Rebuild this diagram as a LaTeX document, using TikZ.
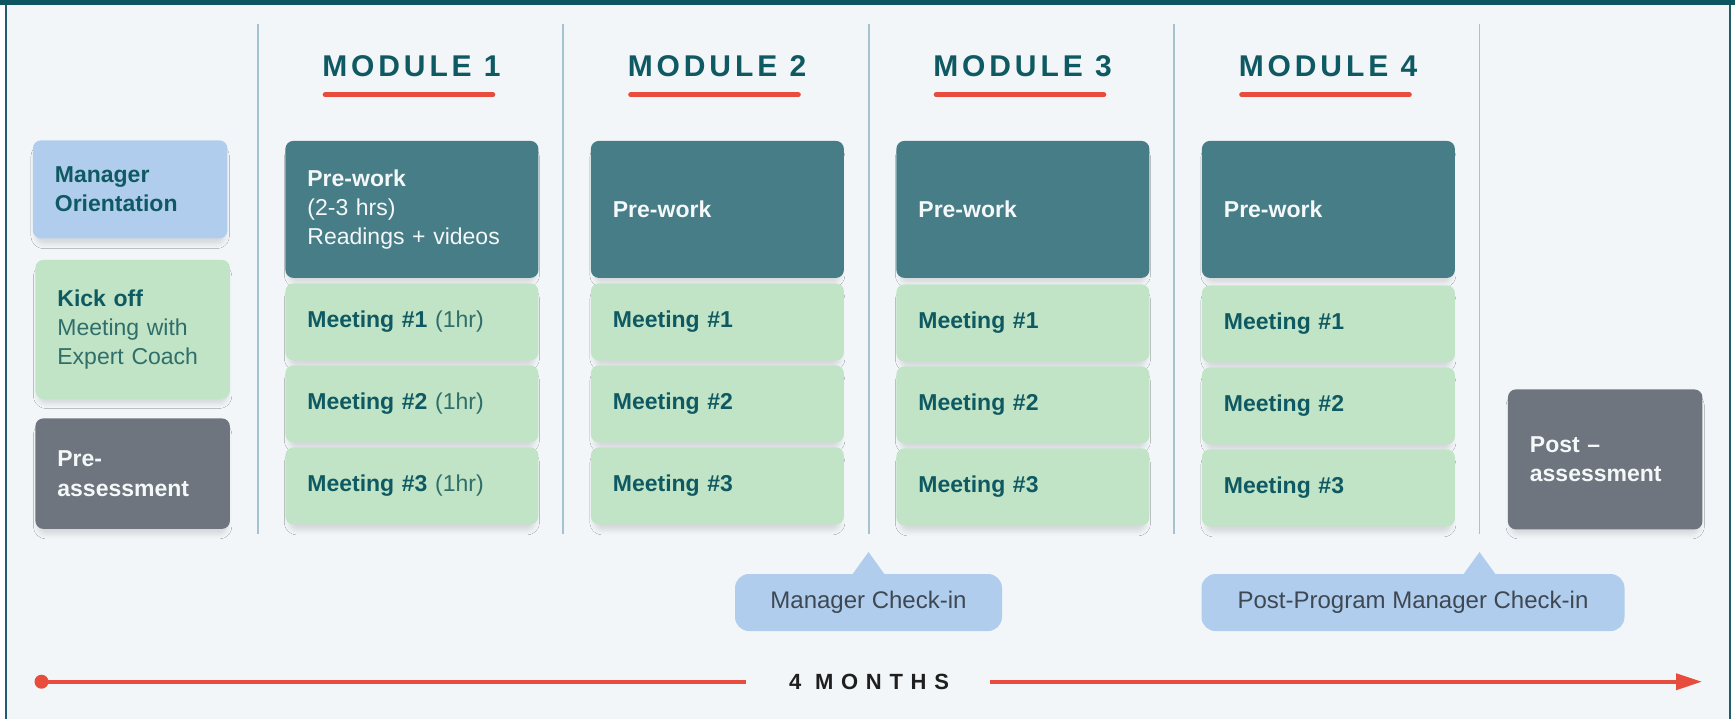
\documentclass[tikz,border=0pt]{standalone}
\usepackage{fontspec}
\setmainfont{Liberation Sans}
\newfontfamily\hdrfont[LetterSpace=13]{Liberation Sans}
\newfontfamily\monthfont[LetterSpace=35]{Liberation Sans}
\usetikzlibrary{arrows.meta,shadows.blur}
\definecolor{bgc}{HTML}{F2F6F8}
\definecolor{topc}{HTML}{0D5661}
\definecolor{framec}{HTML}{1E5F69}
\definecolor{pwc}{HTML}{477D87}
\definecolor{mgc}{HTML}{C1E4C7}
\definecolor{blc}{HTML}{B1CDEE}
\definecolor{gyc}{HTML}{6E757E}
\definecolor{tealtxt}{HTML}{0F5A62}
\definecolor{tealsub}{HTML}{2F6E69}
\definecolor{redc}{HTML}{E84C3D}
\definecolor{divc}{HTML}{A6C2CE}
\definecolor{cotxt}{HTML}{3D4852}
\definecolor{whtxt}{HTML}{F4F8F9}
\begin{document}
\begin{tikzpicture}[x=0.5pt,y=-0.5pt,
  card/.style={rectangle, rounded corners=4pt, anchor=north west, inner xsep=11pt, inner ysep=0pt,
    align=left, font=\fontsize{11.5}{14.6}\selectfont,
    blur shadow={shadow xshift=0pt, shadow yshift=-3.5pt, shadow scale=0.97, shadow blur radius=2.5pt, shadow opacity=12}},
  prework/.style={card, fill=pwc, text=whtxt, minimum width=126.5pt, text width=104.5pt, minimum height=68.5pt},
  meeting/.style={card, fill=mgc, text=tealtxt, minimum width=126.5pt, text width=104.5pt, minimum height=38.5pt},
  sidecard/.style={card, minimum width=97.25pt, text width=75.25pt},
  hdr/.style={font=\hdrfont\bfseries\fontsize{15}{18}\selectfont, text=tealtxt, inner sep=0pt},
  ul/.style={draw=redc, line width=2.3pt, line cap=round},
  divider/.style={draw=divc, line width=0.6pt},
  callout/.style={rectangle, rounded corners=7pt, fill=blc, text=cotxt, font=\fontsize{12}{14}\selectfont, inner sep=0pt},
  tline/.style={draw=redc, line width=1.8pt}
]
\useasboundingbox (0,0) rectangle (1735,719);
% frame
\fill[white] (0,0) rectangle (1735,719);
\fill[bgc] (6,0) rectangle (1730,719);
\draw[framec, line width=0.8pt] (6,0) -- (6,719);
\draw[framec, line width=0.8pt] (1730,0) -- (1730,719);
\fill[topc] (0,0) rectangle (1735,4.5);

% dividers
\foreach \x in {258,563,869,1174,1479.5}{
  \draw[divider] (\x,24) -- (\x,534);
}

% headers
\foreach \i in {1,...,4}{
  \pgfmathsetmacro{\C}{285+(\i-1)*305.5+126.5}
  \node[hdr] (hd\i) at (\C,66) {MODULE \i};
  \draw[ul] (\C-86.5,94.7) -- (\C+81.5,94.7);
}

% left column
\node[sidecard, fill=blc, text=tealtxt, minimum height=49pt] (mo) at (32.5,140)
  {\textbf{Manager}\\\textbf{Orientation}};
\node[sidecard, fill=mgc, text=tealtxt, minimum height=69.5pt] (ko) at (35,259.5)
  {\textbf{Kick off}\\\textcolor{tealsub}{Meeting with}\\\textcolor{tealsub}{Expert Coach}};
\node[sidecard, fill=gyc, text=whtxt, minimum height=55.25pt] (pa) at (35,418)
  {\textbf{Pre-}\\\textbf{assessment}};

% module 1
\node[prework] (pw1) at (285,140.5) {\textbf{Pre-work}\\(2-3 hrs)\\Readings + videos};
\node[meeting] (m1-1) at (285,283) {\textbf{Meeting \#1} \textcolor{tealsub}{(1hr)}};
\node[meeting] (m1-2) at (285,365) {\textbf{Meeting \#2} \textcolor{tealsub}{(1hr)}};
\node[meeting] (m1-3) at (285,447) {\textbf{Meeting \#3} \textcolor{tealsub}{(1hr)}};

% modules 2-4
\foreach \i in {2,3,4}{
  \pgfmathsetmacro{\L}{285+(\i-1)*305.5}
  \pgfmathsetmacro{\D}{(\i-2)*1}
  \node[prework] (pw\i) at (\L,140.5) {\textbf{Pre-work}};
  \node[meeting] (m\i-1) at (\L,283+\D) {\textbf{Meeting \#1}};
  \node[meeting] (m\i-2) at (\L,365+\D) {\textbf{Meeting \#2}};
  \node[meeting] (m\i-3) at (\L,447+\D) {\textbf{Meeting \#3}};
}

% post assessment
\node[sidecard, fill=gyc, text=whtxt, minimum height=70pt] (posta) at (1507.5,389)
  {\textbf{Post --}\\\textbf{assessment}};

% callouts
\node[callout, minimum width=133.5pt, minimum height=28.5pt] (c1) at (868.5,602.5) {Manager Check-in};
\fill[blc] ([xshift=-8.5pt,yshift=-1pt]c1.north) -- (868.5,552) -- ([xshift=8.5pt,yshift=-1pt]c1.north) -- cycle;
\node[callout, minimum width=211.5pt, minimum height=28.5pt] (c2) at (1413,602.5) {Post-Program Manager Check-in};
\fill[blc] ([xshift=24.75pt,yshift=-1pt]c2.north) -- (1479.5,552) -- ([xshift=41.75pt,yshift=-1pt]c2.north) -- cycle;

% timeline
\node[circle, fill=redc, minimum size=7pt, inner sep=0pt] (tstart) at (41.5,681.7) {};
\node[font=\monthfont\bfseries\fontsize{11}{12}\selectfont, text=black!88, inner sep=0pt] (months) at (869,681.7) {4 MONTHS};
\coordinate (tl) at (746,681.7);
\coordinate (tr) at (990,681.7);
\coordinate (tend) at (1702,681.7);
\draw[tline] (tstart.center) -- (tl);
\draw[tline, -{Triangle[length=13pt,width=8pt]}] (tr) -- (tend);
\end{tikzpicture}
\end{document}
